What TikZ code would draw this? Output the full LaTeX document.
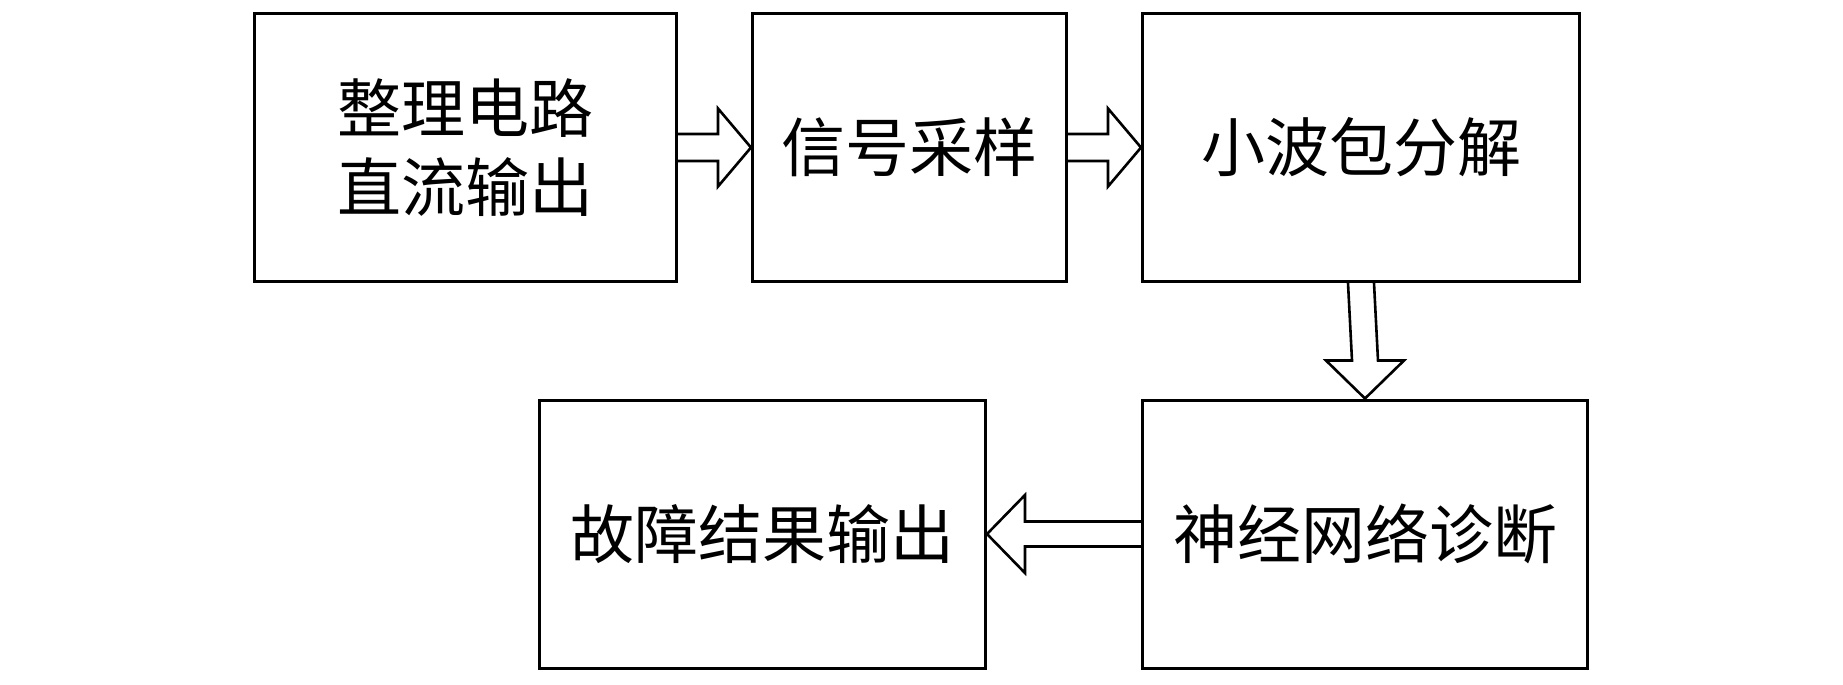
\documentclass[tikz,border=0pt]{standalone}
\usepackage{fontspec}
\setmainfont{Noto Sans CJK SC}
\usetikzlibrary{calc}

\tikzset{
  stage/.style={draw, line width=1.5pt, minimum height=134pt, inner sep=0pt,
    align=center, font=\fontsize{32}{39.5}\selectfont},
  fatarrow/.style={draw, line width=1.3pt, line join=miter},
}

\begin{document}
\begin{tikzpicture}[x=0.5pt, y=-0.5pt]

    \useasboundingbox (0,0) rectangle (1843,685);

    %% Processing chain

    % Top row
    \node[stage, minimum width=211pt] (rectify) at (465.5,147.5) {整理电路\\直流输出};
    \node[stage, minimum width=157pt] (sample) at (909.5,147.5) {信号采样};
    \node[stage, minimum width=218.5pt] (wavelet) at (1361,147.5) {小波包分解};

    % Bottom row
    \node[stage, minimum width=223pt] (result) at (762.5,534) {故障结果输出};
    \node[stage, minimum width=222.5pt] (neural) at (1365,534) {神经网络诊断};

    % Hollow arrows
    \draw[fatarrow] ([yshift=6.75pt]rectify.east) -- ([shift={(-16.5pt,6.75pt)}]sample.west)
        -- ([shift={(-16.5pt,19.5pt)}]sample.west) -- (sample.west)
        -- ([shift={(-16.5pt,-19.5pt)}]sample.west) -- ([shift={(-16.5pt,-6.75pt)}]sample.west)
        -- ([yshift=-6.75pt]rectify.east);
    \draw[fatarrow] ([yshift=6.75pt]sample.east) -- ([shift={(-16.5pt,6.75pt)}]wavelet.west)
        -- ([shift={(-16.5pt,19.5pt)}]wavelet.west) -- (wavelet.west)
        -- ([shift={(-16.5pt,-19.5pt)}]wavelet.west) -- ([shift={(-16.5pt,-6.75pt)}]wavelet.west)
        -- ([yshift=-6.75pt]sample.east);
    \draw[fatarrow] ([xshift=-6.5pt]wavelet.south) -- ([shift={(-6.5pt,19pt)}]neural.north)
        -- ([shift={(-19.5pt,19pt)}]neural.north) -- (neural.north)
        -- ([shift={(19.5pt,19pt)}]neural.north) -- ([shift={(6.5pt,19pt)}]neural.north)
        -- ([xshift=6.5pt]wavelet.south);
    \draw[fatarrow] ([yshift=6.25pt]neural.west) -- ([shift={(19pt,6.25pt)}]result.east)
        -- ([shift={(19pt,19.5pt)}]result.east) -- (result.east)
        -- ([shift={(19pt,-19.5pt)}]result.east) -- ([shift={(19pt,-6.25pt)}]result.east)
        -- ([yshift=-6.25pt]neural.west);

\end{tikzpicture}
\end{document}
